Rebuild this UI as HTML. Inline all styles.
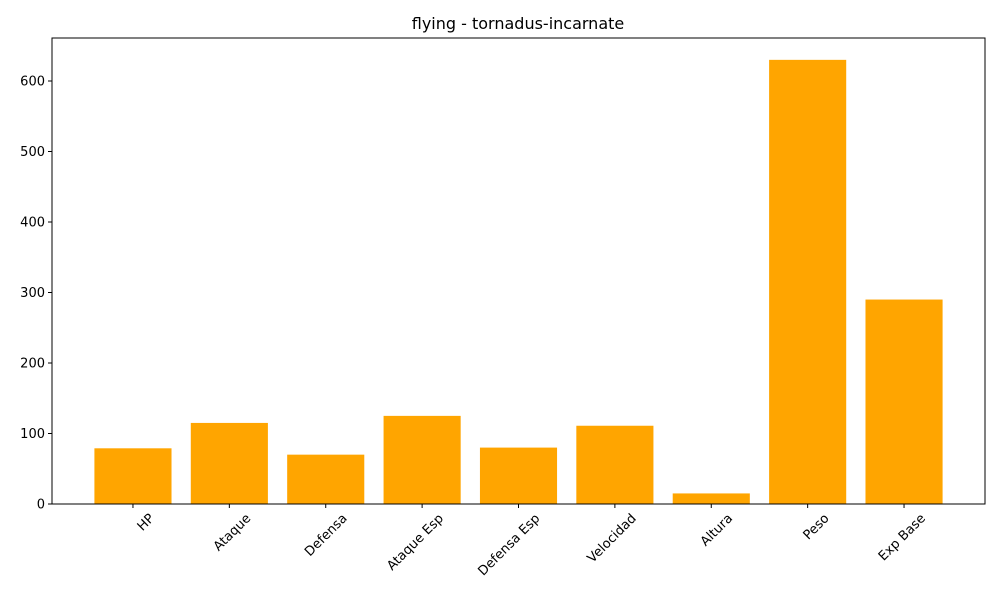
<!DOCTYPE html>
<html><head><meta charset="utf-8"><style>
body{margin:0;background:#fff;}
svg text{font-family:"DejaVu Sans","Liberation Sans",sans-serif;fill:#000;}
</style></head><body>
<svg id="chart" width="1000" height="600" xmlns="http://www.w3.org/2000/svg">
<rect width="1000" height="600" fill="#fff"/>
<text x="518" y="29" font-size="16" text-anchor="middle">flying - tornadus-incarnate</text>
<g id="bars"></g>
<g id="yticks"></g>
<g id="xticks"></g>
<rect x="52" y="38" width="933" height="466" fill="none" stroke="#000" stroke-width="1"/>
</svg>
<script>
const categories=["HP","Ataque","Defensa","Ataque Esp","Defensa Esp","Velocidad","Altura","Peso","Exp Base"];
const values=[79,115,70,125,80,111,15,630,290];
const yTickLabels=[0,100,200,300,400,500,600];
const L=52,R=985,B=504;
const yPerUnit=(504-81)/600;
function y(v){return B-v*yPerUnit;}
const n=categories.length;
const xmin=-0.84,xmax=(n-1)+0.84;
function x(i){return L+(i-xmin)/(xmax-xmin)*(R-L);}
const unit=(R-L)/(xmax-xmin);
const NS="http://www.w3.org/2000/svg";
const bars=document.getElementById('bars'),yt=document.getElementById('yticks'),xt=document.getElementById('xticks');
values.forEach((v,i)=>{
 const r=document.createElementNS(NS,'rect');
 r.setAttribute('x',x(i)-0.4*unit);r.setAttribute('width',0.8*unit);
 r.setAttribute('y',y(v));r.setAttribute('height',B-y(v));r.setAttribute('fill','#ffa500');
 
 
 bars.appendChild(r);
});
yTickLabels.forEach(t=>{
 const l=document.createElementNS(NS,'line');
 l.setAttribute('x1',L-4);l.setAttribute('x2',L);l.setAttribute('y1',y(t));l.setAttribute('y2',y(t));l.setAttribute('stroke','#000');
 
 
 yt.appendChild(l);
 const tx=document.createElementNS(NS,'text');
 tx.setAttribute('x',L-7);tx.setAttribute('y',y(t)+4.5);tx.setAttribute('font-size','13');tx.setAttribute('text-anchor','end');
 tx.textContent=t;
 
 
 yt.appendChild(tx);
});
categories.forEach((c,i)=>{
 const l=document.createElementNS(NS,'line');
 l.setAttribute('x1',x(i));l.setAttribute('x2',x(i));l.setAttribute('y1',B);l.setAttribute('y2',B+4);l.setAttribute('stroke','#000');
 
 
 xt.appendChild(l);
 const tx=document.createElementNS(NS,'text');
 tx.setAttribute('font-size','13');tx.setAttribute('text-anchor','end');
 tx.setAttribute('transform','translate('+(x(i)+22)+','+(B+15)+') rotate(-45)');
 tx.textContent=c;
 
 
 xt.appendChild(tx);
});
</script>
</body></html>
